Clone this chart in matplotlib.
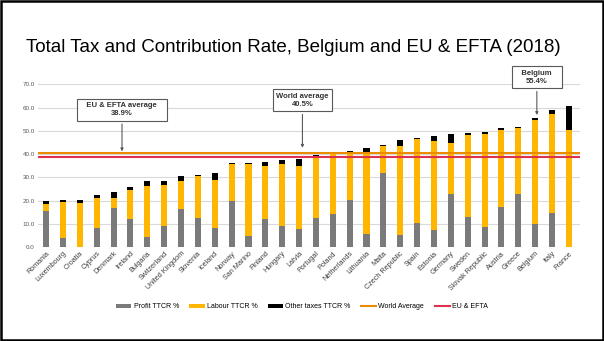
import matplotlib.pyplot as plt
import numpy as np
from matplotlib.patches import Rectangle

plt.rcParams['font.family'] = ['Liberation Sans', 'DejaVu Sans']

# Data
countries = ['Romania', 'Luxembourg', 'Croatia', 'Cyprus', 'Denmark', 'Ireland', 'Bulgaria',
             'Switzerland', 'United Kingdom', 'Slovenia', 'Iceland', 'Norway', 'San Marino',
             'Finland', 'Hungary', 'Latvia', 'Portugal', 'Poland', 'Netherlands', 'Lithuania',
             'Malta', 'Czech Republic', 'Spain', 'Estonia', 'Germany', 'Sweden',
             'Slovak Republic', 'Austria', 'Greece', 'Belgium', 'Italy', 'France']
profit = [15.6, 3.9, 0.0, 8.2, 16.9, 12.3, 4.6, 9.2, 16.5, 12.7, 8.5, 19.9, 5.0, 12.2, 9.2, 7.9,
          12.5, 14.3, 20.2, 5.9, 32.1, 5.3, 10.5, 7.5, 22.9, 13.0, 8.9, 17.1, 22.8, 10.2, 14.8, 0.0]
labour = [3.1, 15.6, 19.0, 13.0, 4.3, 12.3, 21.6, 17.6, 12.0, 18.1, 20.3, 15.7, 30.7, 22.8, 26.4, 27.2,
          26.5, 25.6, 20.7, 35.0, 11.3, 38.0, 35.8, 38.2, 21.8, 35.2, 39.7, 33.4, 28.4, 44.6, 42.5, 50.2]
other = [1.2, 0.7, 1.5, 1.3, 2.7, 1.4, 2.1, 1.8, 2.0, 0.4, 3.0, 0.5, 0.4, 1.7, 2.1, 2.9,
         0.7, 0.5, 0.4, 1.7, 0.5, 2.7, 0.6, 2.0, 4.0, 0.7, 1.0, 0.7, 0.6, 0.6, 1.6, 10.4]
world_avg = 40.5
eu_avg = 38.9

grey = '#7a7a7a'
yellow = '#FFB600'
orange = '#EB8C00'
red = '#E0304E'

fig = plt.figure(figsize=(6.04, 3.41), dpi=100)
ax = fig.add_axes([0.0624, 0.2748, 0.8976, 0.478])

x = np.arange(len(countries))
profit = np.array(profit)
labour = np.array(labour)
other = np.array(other)
w = 0.36
ax.bar(x, profit, w, color=grey, label='Profit TTCR %', zorder=3)
ax.bar(x, labour, w, bottom=profit, color=yellow, label='Labour TTCR %', zorder=3)
ax.bar(x, other, w, bottom=profit + labour, color='black', label='Other taxes TTCR %', zorder=3)
ax.axhline(world_avg, color=orange, lw=1.5, label='World Average', zorder=4)
ax.axhline(eu_avg, color=red, lw=1.5, label='EU & EFTA', zorder=4)

ax.set_xlim(-0.5, len(countries) - 0.35)
ax.set_ylim(0, 70)
ax.set_yticks(np.arange(0, 71, 10))
ax.set_yticklabels([f'{v:.1f}' for v in np.arange(0, 71, 10)], fontsize=4.5, color='#595959')
ax.set_xticks(x)
ax.set_xticklabels(countries, rotation=45, ha='right', rotation_mode='anchor',
                   fontsize=5.2, color='#404040')
ax.tick_params(length=0, pad=2)
ax.grid(axis='y', color='#d9d9d9', lw=0.8, zorder=0)
for s in ax.spines.values():
    s.set_visible(False)

# Callout boxes
box = dict(boxstyle='square,pad=0.45', fc='white', ec='#595959', lw=0.8)
arrow = dict(arrowstyle='-|>', color='#595959', lw=0.8, mutation_scale=4)
ax.annotate('   EU & EFTA average   \n38.9%', xy=(4.5, 40.0), xytext=(4.5, 59.0),
            ha='center', va='center', fontsize=5.5, fontweight='bold', color='#333333',
            bbox=box, arrowprops=arrow, zorder=6)
ax.annotate('World average\n40.5%', xy=(15.2, 41.5), xytext=(15.2, 63.1),
            ha='center', va='center', fontsize=5.5, fontweight='bold', color='#333333',
            bbox=box, arrowprops=arrow, zorder=6)
ax.annotate('   Belgium   \n55.4%', xy=(29.1, 55.6), xytext=(29.1, 73.0),
            ha='center', va='center', fontsize=5.5, fontweight='bold', color='#333333',
            bbox=box, arrowprops=arrow, annotation_clip=False, zorder=6)

fig.text(0.043, 0.862, 'Total Tax and Contribution Rate, Belgium and EU & EFTA (2018)',
         fontsize=13.5, color='black', va='center')

handles, labels = ax.get_legend_handles_labels()
order = [2, 3, 4, 0, 1]
fig.legend([handles[i] for i in order], [labels[i] for i in order], loc='center',
           bbox_to_anchor=(0.5, 0.1), ncol=5, frameon=False, fontsize=5,
           handlelength=2.2, handleheight=0.5, columnspacing=1.5, handletextpad=0.3)

fig.patches.append(Rectangle((0.002, 0.003), 0.996, 0.994, transform=fig.transFigure,
                             fill=False, ec='black', lw=1.8))

fig.savefig('out.png', dpi=100)
